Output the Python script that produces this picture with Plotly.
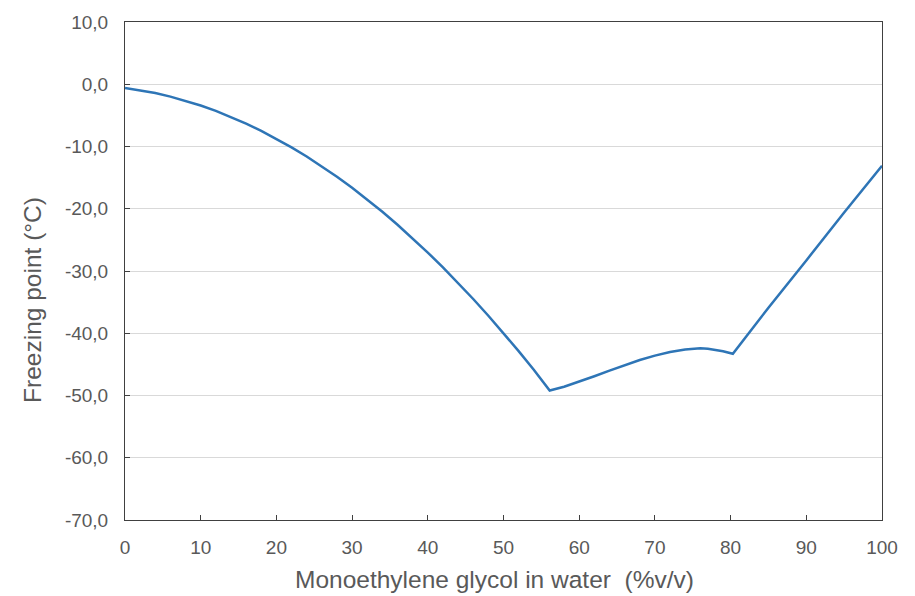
import plotly.graph_objects as go

glycol_pct = [0, 2, 4, 6, 8, 10, 12, 14, 16, 18, 20, 22, 24, 26, 28, 30, 32, 34, 36, 38,
              40, 42, 44, 46, 48, 50, 52, 54, 56.1,
              58, 60, 62, 64, 66, 68, 70, 72, 74, 76, 77, 78, 79, 80.3,
              85, 90, 95, 100]
freezing_c = [-0.6, -0.96, -1.42, -1.99, -2.65, -3.42, -4.28, -5.25, -6.32, -7.49, -8.76,
              -10.13, -11.61, -13.18, -14.86, -16.64, -18.51, -20.49, -22.57, -24.76,
              -27.04, -29.42, -31.91, -34.5, -37.19, -39.98, -42.87, -45.86, -49.2,
              -48.6, -47.8, -46.9, -46.0, -45.1, -44.3, -43.6, -43.0, -42.6, -42.4, -42.5,
              -42.7, -42.9, -43.3,
              -35.9, -28.3, -20.6, -13.1]

x_ticks = [0, 10, 20, 30, 40, 50, 60, 70, 80, 90, 100]
x_tick_labels = ["0", "10", "20", "30", "40", "50", "60", "70", "80", "90", "100"]
y_ticks = [10, 0, -10, -20, -30, -40, -50, -60, -70]
y_tick_labels = ["10,0", "0,0", "-10,0", "-20,0", "-30,0", "-40,0", "-50,0", "-60,0", "-70,0"]

x_title = "Monoethylene glycol in water  (%v/v)"
y_title = "Freezing point (°C)"

fig = go.Figure()
fig.add_trace(go.Scatter(x=glycol_pct, y=freezing_c, mode="lines",
                         line=dict(color="#2E75B6", width=2.5), showlegend=False))

font_family = "Liberation Sans, Arial, sans-serif"
fig.update_layout(
    width=915, height=596,
    margin=dict(l=125, r=33, t=18, b=76),
    paper_bgcolor="white", plot_bgcolor="white",
    font=dict(family=font_family, color="#595959", size=19),
    xaxis=dict(
        range=[0, 100], tickvals=x_ticks, ticktext=x_tick_labels,
        showline=True, linecolor="#404040", linewidth=1, mirror=True,
        ticks="inside", ticklen=5, tickcolor="#404040",
        showgrid=False, zeroline=False, ticklabelstandoff=10,
        tickfont=dict(size=19, color="#595959"),
    ),
    yaxis=dict(
        range=[-70, 10], tickvals=y_ticks, ticktext=y_tick_labels,
        showline=True, linecolor="#404040", linewidth=1, mirror=True,
        ticks="inside", ticklen=5, tickcolor="#404040",
        showgrid=True, gridcolor="#D9D9D9", gridwidth=1, zeroline=False, ticklabelstandoff=12,
        tickfont=dict(size=19, color="#595959"),
    ),
    annotations=[
        dict(text=x_title, xref="paper", yref="paper", x=0.488, y=-0.12,
             xanchor="center", yanchor="middle", showarrow=False,
             font=dict(size=24.5, color="#595959")),
        dict(text=y_title, xref="paper", yref="paper", x=-0.1215, y=0.442,
             xanchor="center", yanchor="middle", textangle=-90, showarrow=False,
             font=dict(size=24.5, color="#595959")),
    ],
)

fig.write_html("out.html")
